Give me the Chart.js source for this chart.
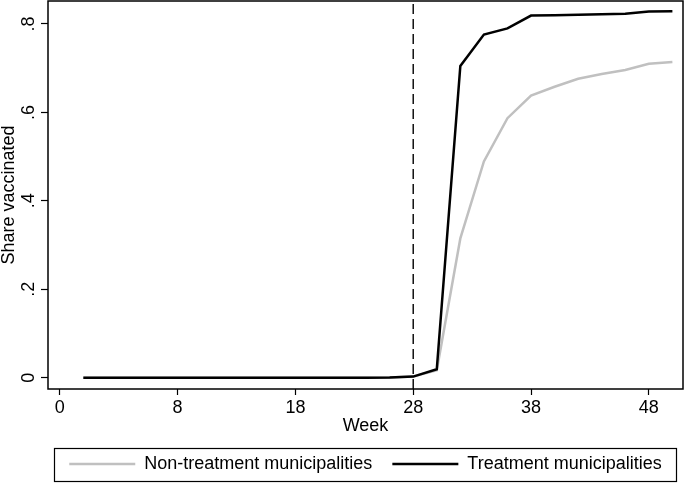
<!DOCTYPE html>
<html>
<head>
<meta charset="utf-8">
<script src="https://cdn.jsdelivr.net/npm/chart.js@4"></script>
<style>
  html,body{margin:0;padding:0;background:#fff;}
  canvas{display:block;}
</style>
</head>
<body>
<canvas id="chart" width="684" height="483"></canvas>
<script>
// weekly observations (axis index), share vaccinated per group
const weekPos = [2,4,6,8,10,12,14,16,18,20,22,24,26,28,30,32,34,36,38,40,42,44,46,48,50,52];
const nonTreatment = [0,0,0,0,0,0,0,0,0,0,0,0,0,0.0005,0.0025,0.017,0.315,0.489,0.587,0.638,0.658,0.676,0.687,0.696,0.710,0.714];
const treatment = [0,0,0,0,0,0,0,0,0,0,0,0,0,0.0005,0.0025,0.019,0.705,0.776,0.790,0.819,0.820,0.821,0.822,0.823,0.828,0.829];
const xTickPos = [0,10,20,30,40,50];
const xTickLabels = ['0','8','18','28','38','48'];
const yTicks = [0,0.2,0.4,0.6,0.8];
const cutoffPos = 30;
const xRange = [-1, 52.9];
const yRange = [-0.0256, 0.852];

Chart.defaults.font.family = "'Liberation Sans', Arial, sans-serif";
Chart.defaults.color = '#000';

function fmtY(v){ return v===0 ? '0' : String(v).replace(/^0/, ''); }
function pts(vals){ return weekPos.map((x,i) => ({x, y: vals[i]})); }

// box around the plot region (Stata style)
const frame = {
  id:'frame',
  afterDraw(chart){
    const {ctx, chartArea:a} = chart;
    ctx.save();
    ctx.strokeStyle = '#000';
    ctx.lineWidth = 1.5;
    ctx.strokeRect(a.left, a.top, a.right-a.left, a.bottom-a.top);
    ctx.restore();
  }
};

// rotated y tick labels
const yLabels = {
  id:'yLabels',
  afterDraw(chart){
    const {ctx} = chart;
    const y = chart.scales.y;
    ctx.save();
    ctx.font = "18px 'Liberation Sans', Arial, sans-serif";
    ctx.fillStyle = '#000';
    ctx.textAlign = 'center';
    ctx.textBaseline = 'alphabetic';
    for(const v of yTicks){
      const py = y.getPixelForValue(v);
      ctx.save();
      ctx.translate(y.right - 14.5, py);
      ctx.rotate(-Math.PI/2);
      ctx.fillText(fmtY(v), 0, 0);
      ctx.restore();
    }
    ctx.restore();
  }
};

// border round the legend
const legendBox = {
  id:'legendBox',
  afterDraw(chart){
    const boxes = chart.legend && chart.legend.legendHitBoxes;
    if(!boxes || !boxes.length) return;
    const l = Math.min(...boxes.map(b=>b.left)) - 15;
    const r = Math.max(...boxes.map(b=>b.left+b.width)) + 15;
    const cy = boxes[0].top + boxes[0].height/2;
    const {ctx} = chart;
    ctx.save();
    ctx.strokeStyle = '#000';
    ctx.lineWidth = 1.2;
    ctx.strokeRect(Math.round(l)+0.5, Math.round(cy-16.5)+0.5, Math.round(r-l), 33);
    ctx.restore();
  }
};

new Chart(document.getElementById('chart'), {
  type:'line',
  data:{
    datasets:[
      { label:'Non-treatment municipalities', data: pts(nonTreatment), borderColor:'#c0c0c0', borderWidth:2.5, pointRadius:0, tension:0, order:2 },
      { label:'Treatment municipalities', data: pts(treatment), borderColor:'#000', borderWidth:2.5, pointRadius:0, tension:0, order:1 },
      { label:'cutoff', data:[{x:cutoffPos,y:yRange[0]},{x:cutoffPos,y:yRange[1]}], borderColor:'#000', borderWidth:1.4, borderDash:[10,5], pointRadius:0, order:0 }
    ]
  },
  options:{
    responsive:false,
    animation:false,
    layout:{ padding:{ top:1, right:1, left:0, bottom:0 } },
    plugins:{
      legend:{
        position:'bottom',
        fullSize:false,
        labels:{
          usePointStyle:true, pointStyle:'line', pointStyleWidth:66,
          font:{ size:18 }, color:'#000', padding:20,
          filter: it => it.text !== 'cutoff',
          sort: (a,b) => a.datasetIndex - b.datasetIndex
        }
      },
      tooltip:{ enabled:false }
    },
    scales:{
      x:{
        type:'linear', min:xRange[0], max:xRange[1],
        afterBuildTicks: s => { s.ticks = xTickPos.map(v => ({value:v})); },
        afterFit: s => { s.height = 46; },
        ticks:{ callback:(v,i) => xTickLabels[i], font:{size:18}, color:'#000', padding:2, maxRotation:0 },
        grid:{ drawOnChartArea:false, tickLength:6, tickColor:'#000', tickWidth:1.2 },
        border:{ display:false },
        title:{ display:true, text:'Week', font:{size:18}, color:'#000', padding:{top:0,bottom:-2} }
      },
      y:{
        type:'linear', min:yRange[0], max:yRange[1],
        afterBuildTicks: s => { s.ticks = yTicks.map(v => ({value:v})); },
        afterFit: s => { s.width = 48; },
        ticks:{ display:false },
        grid:{ drawOnChartArea:false, tickLength:7, tickColor:'#000', tickWidth:1.2 },
        border:{ display:false },
        title:{ display:true, text:'Share vaccinated', font:{size:18}, color:'#000', padding:{top:-2,bottom:0} }
      }
    }
  },
  plugins:[frame, yLabels, legendBox]
});
</script>
</body>
</html>
